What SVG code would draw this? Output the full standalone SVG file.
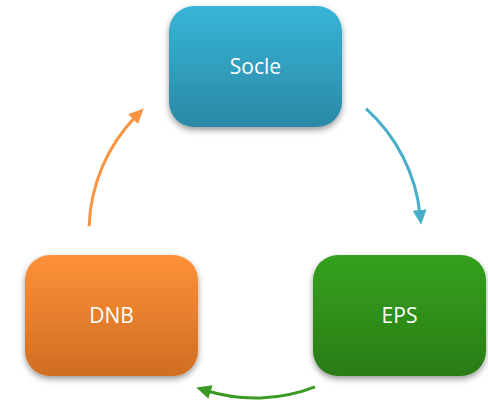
<svg xmlns="http://www.w3.org/2000/svg" width="488" height="404" viewBox="0 0 488 404">
<style>
.lbl{font-family:"Open Sans","Noto Sans",sans-serif;font-size:21px;fill:#ffffff;text-anchor:middle}
.con{fill:none;stroke-width:3}
</style>
<defs>
<linearGradient id="gB" x1="0" y1="0" x2="0" y2="1"><stop offset="0" stop-color="#37b5d7"/><stop offset="1" stop-color="#2b88a6"/></linearGradient>
<linearGradient id="gO" x1="0" y1="0" x2="0" y2="1"><stop offset="0" stop-color="#fe913a"/><stop offset="1" stop-color="#cf6d22"/></linearGradient>
<linearGradient id="gG" x1="0" y1="0" x2="0" y2="1"><stop offset="0" stop-color="#34a11c"/><stop offset="1" stop-color="#2a7c17"/></linearGradient>
<filter id="sh" x="-20%" y="-20%" width="140%" height="150%"><feDropShadow dx="0" dy="3" stdDeviation="3" flood-color="#000" flood-opacity="0.4"/></filter>
<marker id="mO" markerUnits="userSpaceOnUse" markerWidth="16" markerHeight="16" refX="5" refY="7" orient="auto"><path d="M0,0 L15,7 L0,14 Z" fill="#f79543"/></marker>
<marker id="mB" markerUnits="userSpaceOnUse" markerWidth="16" markerHeight="16" refX="5" refY="7" orient="auto"><path d="M0,0 L15,7 L0,14 Z" fill="#47aec9"/></marker>
<marker id="mG" markerUnits="userSpaceOnUse" markerWidth="16" markerHeight="16" refX="5" refY="7" orient="auto"><path d="M0,0 L15,7 L0,14 Z" fill="#3a9a25"/></marker>
</defs>
<g id="connectors">
<path class="con" stroke="#f79543" d="M89.1,226.2 A166,166 0 0 1 136.6,115.6" marker-end="url(#mO)"/>
<path class="con" stroke="#47aec9" d="M366,108.6 A166,166 0 0 1 420.1,214.9" marker-end="url(#mB)"/>
<path class="con" stroke="#3a9a25" d="M315,386.8 A166,166 0 0 1 205.8,390.5" marker-end="url(#mG)"/>
</g>
<g id="socle">
<rect x="169" y="6" width="173" height="121" rx="25" fill="url(#gB)" filter="url(#sh)"/>
<text class="lbl" x="255.5" y="74">Socle</text>
</g>
<g id="dnb">
<rect x="25" y="255" width="173" height="121" rx="25" fill="url(#gO)" filter="url(#sh)"/>
<text class="lbl" x="111.5" y="323">DNB</text>
</g>
<g id="eps">
<rect x="313" y="255" width="173" height="121" rx="25" fill="url(#gG)" filter="url(#sh)"/>
<text class="lbl" x="399.5" y="323">EPS</text>
</g>
</svg>
